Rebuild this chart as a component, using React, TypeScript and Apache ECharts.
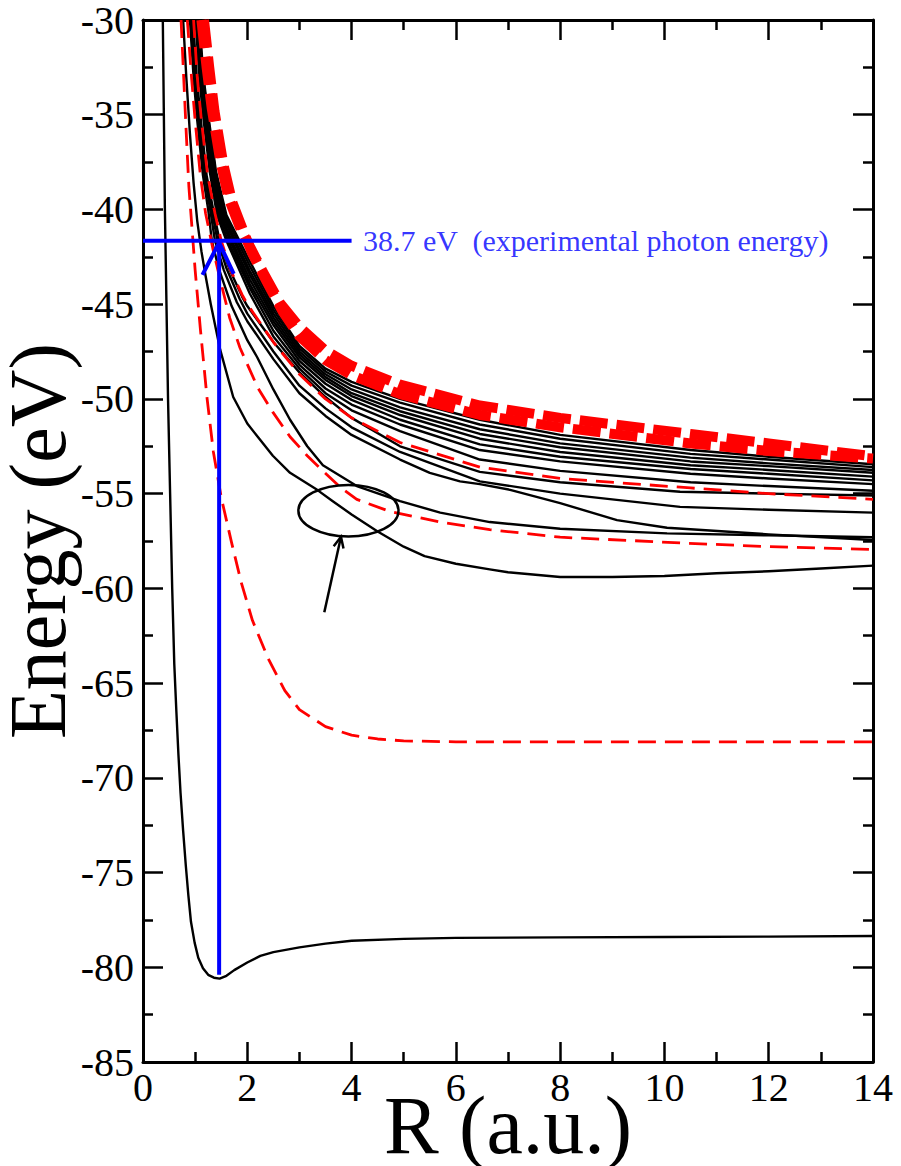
import React, { useEffect, useRef } from "react";
import * as echarts from "echarts";

// ---------- data ----------
const xTicks = [0, 2, 4, 6, 8, 10, 12, 14];
const yTicks = [-30, -35, -40, -45, -50, -55, -60, -65, -70, -75, -80, -85];

// ground state (black)
const groundState = [
  [0.38, -30], [0.4, -35], [0.42, -40], [0.45, -45], [0.48, -50], [0.52, -55], [0.56, -60],
  [0.6, -64], [0.64, -66.5], [0.68, -68.8], [0.72, -70.8], [0.77, -72.8], [0.82, -74.6],
  [0.87, -76.2], [0.92, -77.6], [0.99, -78.7], [1.06, -79.5], [1.15, -80.05], [1.25, -80.4],
  [1.36, -80.55], [1.47, -80.6], [1.6, -80.45], [1.75, -80.15], [2.0, -79.75], [2.25, -79.4],
  [2.5, -79.2], [3.0, -78.95], [3.5, -78.75], [4.0, -78.6], [5.0, -78.5], [6.0, -78.45],
  [8.0, -78.42], [10.0, -78.4], [12.0, -78.38], [14.0, -78.35]
];
// black state with the shallow well near R = 8
const stateG2 = [
  [0.77, -30], [0.83, -33], [0.9, -36], [0.97, -38.6], [1.04, -40.6], [1.12, -42.2], [1.2, -43.5],
  [1.3, -45], [1.48, -47.4], [1.73, -49.9], [2.0, -51.3], [2.2, -52.0], [2.49, -53.0], [2.82, -53.9],
  [3.34, -54.8], [3.64, -55.4], [4.0, -56.1], [4.5, -57.0], [5.0, -57.8], [5.4, -58.3], [6.0, -58.7],
  [6.65, -59.0], [7.0, -59.15], [8.0, -59.4], [9.0, -59.4], [10.0, -59.35], [11.0, -59.2],
  [12.0, -59.1], [13.0, -58.95], [14.0, -58.8]
];
const stateBa = [
  [0.9, -30], [0.97, -33], [1.04, -35.3], [1.15, -38.2], [1.25, -40], [1.32, -41.65], [1.45, -43.1],
  [1.7, -45.1], [2.0, -46.9], [2.19, -47.8], [2.5, -49.5], [2.82, -51.1], [3.15, -52.5], [3.45, -53.5],
  [4.1, -54.6], [4.93, -55.4], [5.7, -56.0], [6.65, -56.5], [8.0, -56.85], [10.05, -57.1],
  [12.0, -57.2], [14.0, -57.3]
];
const stateBb = [
  [0.92, -30], [0.99, -33], [1.07, -35.3], [1.18, -38.2], [1.3, -40.2], [1.38, -41.65], [1.55, -43.2],
  [1.8, -44.9], [2.0, -45.9], [2.5, -47.9], [3.0, -49.7], [3.5, -50.9], [4.0, -51.9], [4.93, -53.2],
  [5.5, -53.9], [6.08, -54.35], [6.46, -54.5], [7.04, -54.8], [8.0, -55.5], [9.09, -56.4],
  [10.05, -56.8], [12.0, -57.15], [14.0, -57.45]
];
const stateC = [
  [0.94, -30], [1.01, -33], [1.09, -35.3], [1.2, -38.2], [1.33, -40.2], [1.43, -41.65], [1.6, -43.1],
  [1.85, -44.7], [2.0, -45.5], [2.5, -47.5], [3.0, -49.3], [3.5, -50.5], [4.0, -51.5], [4.93, -52.8],
  [6.46, -54.35], [8.0, -55.0], [10.3, -55.7], [12.0, -55.85], [14.0, -56.0]
];
const stateD = [
  [0.96, -30], [1.03, -33], [1.11, -35.3], [1.22, -38.2], [1.36, -40.2], [1.47, -41.65], [1.65, -43.1],
  [1.9, -44.6], [2.0, -45.1], [2.5, -47.0], [3.0, -48.6], [3.5, -49.9], [4.0, -51.0], [4.93, -52.5],
  [6.46, -53.85], [8.0, -54.4], [10.3, -54.9], [12.0, -55.0], [14.0, -55.1]
];
const stateU1 = [[1.08, -30], [1.16, -33], [1.25, -35], [1.4, -38], [1.6, -40.3], [1.85, -41.65], [2.05, -42.75], [2.5, -45.1], [3, -47.2], [3.5, -48.4], [4, -49.1], [4.93, -50.0], [6.46, -51.1], [8, -51.9], [10.5, -52.7], [12, -53.05], [14, -53.45]];
const stateU2 = [[1.07, -30], [1.15, -33], [1.24, -35], [1.39, -38], [1.58, -40.3], [1.81, -41.65], [2.05, -43.0], [2.5, -45.3], [3, -47.35], [3.5, -48.55], [4, -49.3], [4.93, -50.2], [6.46, -51.35], [8, -52.1], [10.5, -52.9], [12, -53.2], [14, -53.6]];
const stateU3 = [[1.06, -30], [1.14, -33], [1.23, -35], [1.37, -38], [1.55, -40.3], [1.77, -41.65], [2.05, -43.25], [2.5, -45.5], [3, -47.5], [3.5, -48.7], [4, -49.5], [4.93, -50.45], [6.46, -51.6], [8, -52.35], [10.5, -53.1], [12, -53.4], [14, -53.75]];
const stateU4 = [[1.05, -30], [1.13, -33], [1.22, -35], [1.36, -38], [1.53, -40.3], [1.74, -41.65], [2.05, -43.45], [2.5, -45.7], [3, -47.65], [3.5, -48.85], [4, -49.7], [4.93, -50.65], [6.46, -51.85], [8, -52.55], [10.5, -53.3], [12, -53.55], [14, -53.9]];
const stateU5 = [[1.04, -30], [1.12, -33], [1.2, -35], [1.34, -38], [1.5, -40.3], [1.7, -41.65], [2.05, -43.7], [2.5, -45.9], [3, -47.8], [3.5, -49.0], [4, -49.85], [4.93, -50.85], [6.46, -52.1], [8, -52.8], [10.5, -53.5], [12, -53.75], [14, -54.1]];
const stateU6 = [[1.03, -30], [1.11, -33], [1.18, -35], [1.32, -38], [1.47, -40.3], [1.67, -41.65], [2.05, -43.95], [2.5, -46.1], [3, -48.0], [3.5, -49.2], [4, -50.05], [4.93, -51.1], [6.46, -52.4], [8, -53.05], [10.5, -53.7], [12, -53.95], [14, -54.3]];
const stateU7 = [[1.02, -30], [1.1, -33], [1.17, -35], [1.3, -38], [1.44, -40.3], [1.63, -41.65], [2.05, -44.15], [2.5, -46.4], [3, -48.2], [3.5, -49.45], [4, -50.3], [4.93, -51.35], [6.46, -52.7], [8, -53.3], [10.5, -53.95], [12, -54.2], [14, -54.5]];
const stateU8 = [[1.01, -30], [1.08, -33], [1.15, -35], [1.28, -38], [1.42, -40.3], [1.6, -41.65], [2.05, -44.45], [2.5, -46.7], [3, -48.4], [3.5, -49.7], [4, -50.6], [4.93, -51.7], [6.46, -53.2], [8, -53.8], [10.5, -54.4], [12, -54.6], [14, -54.85]];

// red dashed (thin) states
const redState1 = [
  [0.73, -30], [0.78, -33], [0.83, -36], [0.88, -38.8], [0.94, -41], [1.0, -43.2], [1.1, -46.3],
  [1.23, -50], [1.35, -52.8], [1.5, -55.2], [1.7, -57.6], [1.885, -59.7], [2.1, -61.7], [2.4, -63.7],
  [2.72, -65.4], [3.0, -66.4], [3.5, -67.3], [4.0, -67.75], [4.5, -67.95], [5.0, -68.05],
  [6.0, -68.1], [8.0, -68.1], [10.0, -68.1], [14.0, -68.1]
];
const redState2 = [
  [0.85, -30], [0.93, -33], [1.0, -35.3], [1.1, -38.2], [1.2, -40.2], [1.35, -42.2], [1.48, -43.7],
  [1.66, -45.7], [1.86, -47.3], [2.2, -49.4], [2.49, -50.7], [2.82, -52.0], [3.15, -53.0],
  [3.45, -53.8], [3.8, -54.7], [4.1, -55.3], [4.74, -55.95], [5.7, -56.5], [6.65, -56.9],
  [8.0, -57.3], [10.3, -57.6], [12.0, -57.8], [14.0, -57.95]
];
const redState3 = [
  [0.97, -30], [1.04, -33], [1.12, -35.3], [1.24, -38.2], [1.38, -40.2], [1.5, -41.65], [1.68, -43.2],
  [1.9, -44.5], [2.0, -45.0], [2.5, -47.0], [3.0, -48.7], [3.5, -50.0], [4.0, -51.0], [4.93, -52.3],
  [6.46, -53.6], [8.0, -54.2], [10.5, -54.7], [12.0, -55.0], [14.0, -55.3]
];
// red dashed (thick) pair on top of the bundle
const redBandUpper = [
  [1.12, -30], [1.22, -32.5], [1.32, -34.7], [1.48, -37.4], [1.64, -39.4], [1.85, -40.9], [2.03, -41.85],
  [2.3, -43.3], [2.63, -44.95], [3.0, -46.2], [3.5, -47.45], [4.0, -48.25], [4.93, -49.25], [6.46, -50.35],
  [8.0, -51.0], [10.5, -51.85], [12.0, -52.35], [14.0, -53.03]
];
const redBandLower = [
  [1.17, -30], [1.27, -32.5], [1.37, -34.8], [1.54, -37.6], [1.71, -39.6], [1.92, -41.1], [2.09, -42.3],
  [2.36, -43.75], [2.68, -45.4], [3.0, -46.7], [3.5, -47.95], [4.0, -48.75], [4.93, -49.75], [6.46, -50.85],
  [8.0, -51.5], [10.5, -52.35], [12.0, -52.75], [14.0, -53.15]
];

// annotations
const photonLine = [[0, -41.65], [4.0, -41.65]];
const excitationLine = [[1.46, -80.4], [1.46, -41.8]];
const excitationHead = [[1.14, -43.45], [1.46, -41.75], [1.74, -43.4]];
const photonLabelAt = [[4.22, -41.65]];
const photonLabelText = "38.7 eV  (experimental photon energy)";
const crossingEllipse = [[3.94, -55.9, 0.96, 1.36]];
const pointerShaft = [[3.477, -61.26], [3.797, -57.28]];
const pointerHead = [[3.657, -57.78], [3.797, -57.28], [3.845, -57.9]];

const blackStates = [groundState, stateG2, stateBa, stateBb, stateC, stateD,
  stateU8, stateU7, stateU6, stateU5, stateU4, stateU3, stateU2, stateU1];
const redThinStates = [redState1, redState2, redState3];
const redThickStates = [redBandLower, redBandUpper];

const FONT = "Liberation Serif";

export default function App() {
  const ref = useRef<HTMLDivElement>(null);
  useEffect(() => {
    if (!ref.current) return;
    const chart = echarts.init(ref.current, null, { renderer: "svg" });

    const curve = (data: number[][], color: string, width: number, type: any, z: number) => ({
      type: "line",
      data,
      symbol: "none",
      smooth: false,
      clip: true,
      silent: true,
      z,
      lineStyle: { color, width, type, cap: "butt", join: "round" },
    });
    const poly = (data: number[][], color: string, width: number, z: number) => ({
      type: "line",
      data,
      symbol: "none",
      smooth: false,
      clip: false,
      silent: true,
      z,
      lineStyle: { color, width, cap: "butt", join: "miter" },
    });

    const axisCommon = {
      type: "value",
      axisLine: { show: true, onZero: false, lineStyle: { color: "#000", width: 3 } },
      axisTick: { show: true, inside: true, length: 20, lineStyle: { color: "#000", width: 2.5 } },
      minorTick: { show: true, splitNumber: 2, length: 10, lineStyle: { color: "#000", width: 2.5 } },
      splitLine: { show: false },
      minorSplitLine: { show: false },
    };

    const series: any[] = [];
    blackStates.forEach((d) => series.push(curve(d, "#000000", 2.4, "solid", 2)));
    redThinStates.forEach((d) => series.push(curve(d, "#ff0000", 2.8, [18, 9], 3)));
    redThickStates.forEach((d) => series.push(curve(d, "#ff0000", 10, [28, 9], 3)));
    series.push(poly(photonLine, "#0000ff", 4, 5));
    series.push(poly(excitationLine, "#0000ff", 4, 5));
    series.push(poly(excitationHead, "#0000ff", 4, 5));
    series.push(poly(pointerShaft, "#000000", 2.5, 5));
    series.push(poly(pointerHead, "#000000", 2.5, 5));
    series.push({
      type: "custom",
      data: crossingEllipse,
      silent: true,
      z: 5,
      renderItem: (params: any, api: any) => {
        const c = api.coord([api.value(0), api.value(1)]);
        const s = api.size([api.value(2), api.value(3)]);
        return {
          type: "ellipse",
          shape: { cx: c[0], cy: c[1], rx: s[0], ry: s[1] },
          style: { fill: "none", stroke: "#000", lineWidth: 2.5 },
        };
      },
    });
    series.push({
      type: "scatter",
      data: photonLabelAt,
      symbolSize: 0,
      silent: true,
      z: 6,
      label: {
        show: true,
        position: "right",
        distance: 0,
        formatter: photonLabelText,
        color: "#0000ff",
        fontSize: 30,
        fontFamily: FONT,
      },
    });

    chart.setOption({
      animation: false,
      backgroundColor: "#ffffff",
      grid: { left: 143, right: 28, top: 20, bottom: 104, containLabel: false, outerBoundsMode: "none" },
      xAxis: [
        {
          ...axisCommon,
          position: "bottom",
          min: 0,
          max: 14,
          interval: 2,
          axisLabel: {
            show: true, color: "#000", fontSize: 40, fontFamily: FONT, margin: 10, lineHeight: 30,
            showMinLabel: true, showMaxLabel: true,
            formatter: (v: number) => (xTicks.includes(v) ? String(v) : ""),
          },
          name: "R (a.u.)",
          nameLocation: "middle",
          nameGap: 38,
          nameMoveOverlap: false,
          nameTextStyle: { color: "#000", fontSize: 82, fontFamily: FONT, lineHeight: 50 },
        },
        {
          ...axisCommon,
          position: "top",
          min: 0,
          max: 14,
          interval: 2,
          axisLabel: { show: false },
        },
      ],
      yAxis: [
        {
          ...axisCommon,
          position: "left",
          min: -85,
          max: -30,
          interval: 5,
          axisLabel: {
            show: true, color: "#000", fontSize: 40, fontFamily: FONT, margin: 9, lineHeight: 26,
            showMinLabel: true, showMaxLabel: true,
            formatter: (v: number) => (yTicks.includes(v) ? String(v) : ""),
          },
          name: "Energy (eV)",
          nameLocation: "middle",
          nameGap: 75,
          nameMoveOverlap: false,
          nameTextStyle: { color: "#000", fontSize: 80, fontFamily: FONT, lineHeight: 60 },
        },
        {
          ...axisCommon,
          position: "right",
          min: -85,
          max: -30,
          interval: 5,
          axisLabel: { show: false },
        },
      ],
      series,
    });
    return () => chart.dispose();
  }, []);
  return (
    <div
      ref={ref}
      style={{ position: "fixed", left: 0, top: 0, width: 901, height: 1166, background: "#fff" }}
    />
  );
}
